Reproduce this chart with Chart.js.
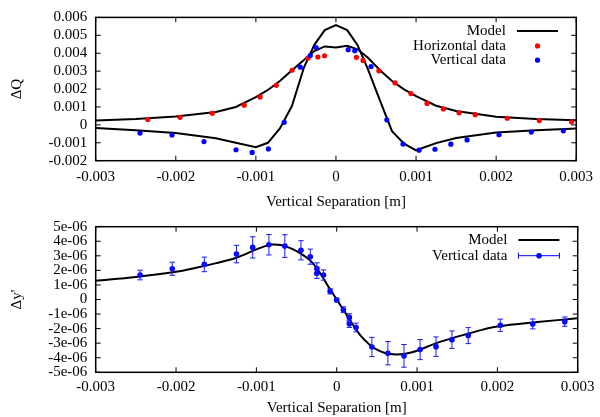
<!DOCTYPE html>
<html>
<head>
<meta charset="utf-8">
<script src="https://cdn.jsdelivr.net/npm/chart.js@4.4.0/dist/chart.umd.min.js"></script>
<style>
  html, body { margin: 0; padding: 0; background: #fff; overflow: hidden; width: 600px; height: 417px; }
  canvas { position: absolute; left: 0; }
  #top { top: 0; }
  #bottom { top: 200px; }
</style>
</head>
<body>
<canvas id="top" width="600" height="215"></canvas>
<canvas id="bottom" width="600" height="230"></canvas>
<script>
// --- data (x in mm*1e-3 -> metres below) ---
var sepHoriz = [-2.349, -1.948, -1.545, -1.145, -0.947, -0.745, -0.548, -0.350, -0.226, -0.143, 0.256, 0.338, 0.536, 0.738, 0.936, 1.137, 1.340, 1.537, 1.739, 2.139, 2.539, 2.942];
var dQHoriz = [0.30, 0.42, 0.65, 1.10, 1.56, 2.21, 3.05, 3.73, 3.79, 3.86, 3.77, 3.60, 3.02, 2.34, 1.75, 1.20, 0.89, 0.67, 0.57, 0.37, 0.24, 0.17];

var sepVert = [-2.447, -2.047, -1.648, -1.248, -1.046, -0.844, -0.646, -0.445, -0.321, -0.247, 0.153, 0.235, 0.438, 0.635, 0.837, 1.038, 1.236, 1.434, 1.637, 2.036, 2.440, 2.839];
var dQVert = [-0.46, -0.57, -0.93, -1.39, -1.54, -1.34, 0.14, 3.22, 3.87, 4.32, 4.20, 4.14, 3.26, 0.28, -1.07, -1.41, -1.36, -1.08, -0.84, -0.55, -0.40, -0.33];

var sepModelQ = [-3, -2.5, -2, -1.5, -1.25, -1, -0.85, -0.7, -0.55, -0.4, -0.27, -0.14, 0, 0.14, 0.27, 0.4, 0.55, 0.7, 0.85, 1, 1.25, 1.5, 2, 2.5, 3];
var modelQHoriz = [0.24, 0.33, 0.47, 0.72, 1.00, 1.55, 1.95, 2.45, 3.05, 3.62, 4.12, 4.38, 4.32, 4.41, 4.22, 3.75, 3.05, 2.45, 1.98, 1.60, 1.07, 0.78, 0.46, 0.33, 0.26];
var modelQVert = [-0.18, -0.30, -0.45, -0.75, -1.00, -1.25, -1.00, -0.20, 1.05, 3.20, 4.47, 5.29, 5.57, 5.29, 4.45, 3.10, 1.35, -0.35, -1.05, -1.42, -1.02, -0.73, -0.43, -0.30, -0.20];

// bottom plot: dy' (units of 1e-6)
var sepKick = [-2.447, -2.047, -1.648, -1.248, -1.046, -0.844, -0.646, -0.445, -0.329, -0.247, -0.247, -0.165, -0.082, 0.000, 0.083, 0.157, 0.157, 0.240, 0.438, 0.637, 0.837, 1.038, 1.236, 1.434, 1.637, 2.036, 2.440, 2.839];
var kickVert = [1.68, 2.11, 2.41, 3.12, 3.58, 3.76, 3.67, 3.38, 2.94, 2.12, 1.80, 1.68, 0.56, -0.03, -0.70, -1.23, -1.67, -1.92, -3.26, -3.69, -3.87, -3.44, -3.24, -2.76, -2.48, -1.77, -1.68, -1.52];
var kickErr = [0.33, 0.45, 0.50, 0.60, 0.73, 0.70, 0.78, 0.66, 0.52, 0.40, 0.35, 0.35, 0.18, 0.12, 0.20, 0.25, 0.25, 0.30, 0.66, 0.80, 0.78, 0.69, 0.67, 0.60, 0.55, 0.42, 0.34, 0.32];

var sepModelK = [-3, -2.5, -2, -1.75, -1.5, -1.25, -1, -0.9, -0.8, -0.7, -0.6, -0.5, -0.4, -0.3, -0.2, -0.1, 0, 0.1, 0.2, 0.3, 0.4, 0.5, 0.6, 0.7, 0.8, 0.9, 1, 1.25, 1.5, 1.75, 2, 2.5, 3];
var modelKick = [1.29, 1.55, 1.90, 2.18, 2.50, 2.87, 3.44, 3.65, 3.77, 3.74, 3.58, 3.33, 2.98, 2.52, 1.75, 0.85, 0, -0.85, -1.72, -2.50, -3.05, -3.45, -3.67, -3.76, -3.76, -3.68, -3.52, -2.98, -2.55, -2.17, -1.86, -1.55, -1.29];

var FONT = 'Liberation Serif';
var FS = 15;

function pts(xs, ys, sx, sy) {
    return xs.map(function (v, i) { return {x: v * sx, y: ys[i] * sy}; });
}

function fmtPlain(v) {
    return String(Number(v.toFixed(4)));
}
function fmtExp(v) {
    var n = Math.round(v * 1e6);
    if (n === 0) return '0';
    return n + 'e-06';
}

function line(ctx, x1, y1, x2, y2) {
    ctx.beginPath(); ctx.moveTo(x1, y1); ctx.lineTo(x2, y2); ctx.stroke();
}

// gnuplot-ish frame, inward mirrored ticks, key
var framePlugin = {
    id: 'frame',
    afterDraw: function (chart, args, opts) {
        var ctx = chart.ctx, a = chart.chartArea, x = chart.scales.x, y = chart.scales.y;
        ctx.save();
        ctx.strokeStyle = '#000';
        ctx.lineWidth = 1;
        x.ticks.forEach(function (t) {
            var px = x.getPixelForValue(t.value);
            line(ctx, px, a.bottom, px, a.bottom - 5);
            line(ctx, px, a.top, px, a.top + 5);
        });
        y.ticks.forEach(function (t) {
            var py = y.getPixelForValue(t.value);
            line(ctx, a.left, py, a.left + 5, py);
            line(ctx, a.right, py, a.right - 5, py);
        });
        ctx.lineWidth = 1.5;
        ctx.strokeRect(a.left, a.top, a.right - a.left, a.bottom - a.top);

        // key
        ctx.font = FS + 'px "' + FONT + '"';
        ctx.textAlign = 'right';
        ctx.textBaseline = 'middle';
        (opts.items || []).forEach(function (it, i) {
            var yy = a.top + opts.rows[i];
            var tx = a.right - 70.3;
            var s0 = a.right - 59.3, s1 = a.right - 18.3, sm = a.right - 38.7;
            ctx.fillStyle = '#000';
            ctx.fillText(it.label, tx, yy);
            if (it.kind === 'line') {
                ctx.strokeStyle = '#000'; ctx.lineWidth = 2;
                line(ctx, s0, yy, s1, yy);
            } else {
                if (it.kind === 'errorbar') {
                    ctx.strokeStyle = it.color; ctx.lineWidth = 1;
                    line(ctx, s0, yy, s1, yy);
                    line(ctx, s0, yy - 3, s0, yy + 3);
                    line(ctx, s1, yy - 3, s1, yy + 3);
                }
                ctx.fillStyle = it.color;
                ctx.beginPath(); ctx.arc(sm, yy, it.r, 0, Math.PI * 2); ctx.fill();
            }
        });
        ctx.restore();
    }
};

var errorBarPlugin = {
    id: 'errbars',
    afterDatasetsDraw: function (chart, args, opts) {
        if (!opts.errors) return;
        var ctx = chart.ctx, x = chart.scales.x, y = chart.scales.y;
        var ds = chart.data.datasets[opts.dataset];
        ctx.save();
        ctx.strokeStyle = opts.color;
        ctx.lineWidth = 1;
        ds.data.forEach(function (p, i) {
            var px = x.getPixelForValue(p.x);
            var e = opts.errors[i] * opts.scale;
            var y0 = y.getPixelForValue(p.y - e), y1 = y.getPixelForValue(p.y + e);
            line(ctx, px, y0, px, y1);
            line(ctx, px - 2.7, y0, px + 2.7, y0);
            line(ctx, px - 2.7, y1, px + 2.7, y1);
        });
        ctx.restore();
    }
};

function axes(cfg) {
    return {
        x: {
            type: 'linear', min: -0.003, max: 0.003,
            afterFit: function (s) { s.height = cfg.xh; },
            grid: {display: false, drawTicks: false},
            border: {display: false},
            ticks: {stepSize: 0.001, padding: cfg.xpad, color: '#000', maxRotation: 0, autoSkip: false,
                    font: {family: FONT, size: FS}, callback: fmtPlain},
            title: {display: true, text: 'Vertical Separation [m]', color: '#000',
                    font: {family: FONT, size: FS}, padding: {top: 0, bottom: cfg.tpad}}
        },
        y: {
            min: cfg.ymin, max: cfg.ymax,
            afterFit: function (s) { s.width = 95.7; },
            grid: {display: false, drawTicks: false},
            border: {display: false},
            ticks: {stepSize: cfg.ystep, padding: 8.4, color: '#000', autoSkip: false,
                    font: {family: FONT, size: FS}, callback: cfg.yfmt},
            title: {display: true, text: cfg.ytitle, color: '#000',
                    font: {family: FONT, size: FS}, padding: {top: 8.5, bottom: 0}}
        }
    };
}

new Chart(document.getElementById('top'), {
    type: 'scatter',
    data: {
        datasets: [
            {label: 'Model', data: pts(sepModelQ, modelQVert, 1e-3, 1e-3), showLine: true,
             borderColor: '#000', borderWidth: 2, pointRadius: 0, tension: 0, order: 2},
            {label: 'Model', data: pts(sepModelQ, modelQHoriz, 1e-3, 1e-3), showLine: true,
             borderColor: '#000', borderWidth: 2, pointRadius: 0, tension: 0, order: 2},
            {label: 'Horizontal data', data: pts(sepHoriz, dQHoriz, 1e-3, 1e-3),
             backgroundColor: '#ff0000', borderWidth: 0, pointRadius: 2.6, order: 1},
            {label: 'Vertical data', data: pts(sepVert, dQVert, 1e-3, 1e-3),
             backgroundColor: '#0000ff', borderWidth: 0, pointRadius: 2.6, order: 0}
        ]
    },
    options: {
        responsive: false, animation: false, devicePixelRatio: 1,
        layout: {padding: {left: 0, right: 19, top: 15.5, bottom: 0}},
        scales: axes({xh: 54.3, xpad: 6.9, tpad: 4, ymin: -0.002, ymax: 0.006, ystep: 0.001,
                      yfmt: fmtPlain, ytitle: 'ΔQ'}),
        plugins: {
            legend: {display: false},
            tooltip: {enabled: false},
            frame: {
                rows: [13.5, 28.5, 42.8],
                items: [
                    {label: 'Model', kind: 'line'},
                    {label: 'Horizontal data', kind: 'point', color: '#ff0000', r: 2.6},
                    {label: 'Vertical data', kind: 'point', color: '#0000ff', r: 2.6}
                ]
            }
        }
    },
    plugins: [framePlugin]
});

new Chart(document.getElementById('bottom'), {
    type: 'scatter',
    data: {
        datasets: [
            {label: 'Model', data: pts(sepModelK, modelKick, 1e-3, 1e-6), showLine: true,
             borderColor: '#000', borderWidth: 2, pointRadius: 0, tension: 0.35, order: 1},
            {label: 'Vertical data', data: pts(sepKick, kickVert, 1e-3, 1e-6),
             backgroundColor: '#0000ff', borderWidth: 0, pointRadius: 2.8, order: 0}
        ]
    },
    options: {
        responsive: false, animation: false, devicePixelRatio: 1,
        layout: {padding: {left: 0, right: 19, top: 26.7, bottom: 0}},
        scales: axes({xh: 57.7, xpad: 5.4, tpad: 12.7, ymin: -5e-6, ymax: 5e-6, ystep: 1e-6,
                      yfmt: fmtExp, ytitle: "Δy'"}),
        plugins: {
            legend: {display: false},
            tooltip: {enabled: false},
            errbars: {dataset: 1, errors: kickErr, scale: 1e-6, color: '#1a1aff'},
            frame: {
                rows: [13.3, 29],
                items: [
                    {label: 'Model', kind: 'line'},
                    {label: 'Vertical data', kind: 'errorbar', color: '#0000ff', r: 2.8}
                ]
            }
        }
    },
    plugins: [errorBarPlugin, framePlugin]
});
</script>
</body>
</html>
